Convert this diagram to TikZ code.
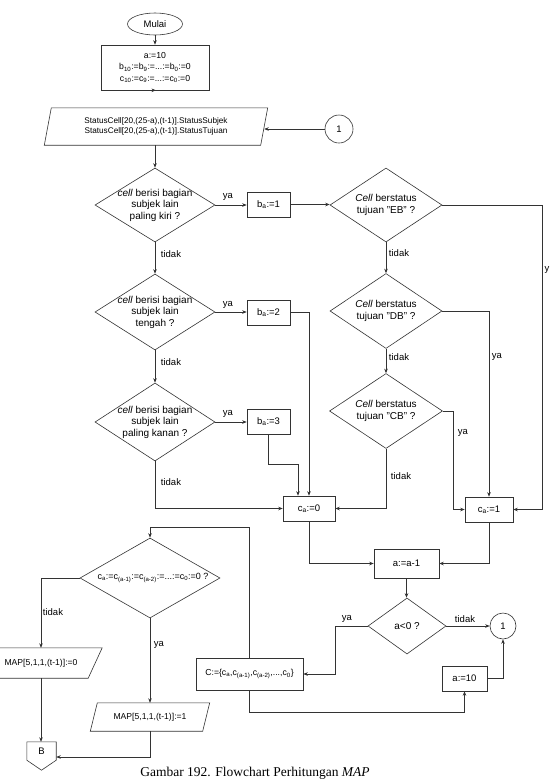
\documentclass[tikz,border=0pt]{standalone}
\usepackage{fontspec}
\setsansfont{Liberation Sans}
\newfontfamily\capfont{Liberation Serif}
\usetikzlibrary{shapes.geometric,arrows.meta}
\newcommand{\mysub}[1]{\textsubscript{#1}}
\tikzset{
  ln/.style={draw=black!80, line width=0.6pt},
  arr/.style={ln, -{Stealth[length=4.5pt,width=3.5pt]}},
  txt/.style={font=\sffamily\fontsize{9.5}{11}\selectfont, align=center, inner sep=0pt},
  dtxt/.style={font=\sffamily\fontsize{10}{11.5}\selectfont, align=center, inner sep=0pt},
  lbl/.style={font=\sffamily\fontsize{9.5}{11}\selectfont, inner sep=0pt},
  box/.style={txt, ln, rectangle},
  dia/.style={ln, diamond, inner sep=0pt},
  pbox/.style={txt, rectangle, draw=none},
}
\begin{document}
\begin{tikzpicture}[x=1pt,y=-1pt]
\useasboundingbox[fill=white] (0,0) rectangle (550,780);

% left column top
\node[txt, ln, ellipse, minimum width=55, minimum height=22] (mulai) at (155,24) {Mulai};
\node[box, font=\sffamily\fontsize{8.7}{11.5}\selectfont, minimum width=108, minimum height=45] (init) at (155,67.5)
  {a:=10\\b\mysub{10}:=b\mysub{9}:=...:=b\mysub{0}:=0\\c\mysub{10}:=c\mysub{9}:=...:=c\mysub{0}:=0};
\node[pbox, font=\sffamily\fontsize{8.2}{10}\selectfont, minimum width=216, minimum height=37] (inp) at (156,126.5)
  {StatusCell[20,(25-a),(t-1)].StatusSubjek\\StatusCell[20,(25-a),(t-1)].StatusTujuan};
\draw[ln] ([xshift=-3.5pt]inp.south west) -- ([xshift=3.5pt]inp.north west) -- ([xshift=3.5pt]inp.north east) -- ([xshift=-3.5pt]inp.south east) -- cycle;
\node[txt, ln, circle, minimum size=28] (c1top) at (339,129) {1};

% left diamonds
\node[dia, minimum width=120, minimum height=74] (d1) at (155,205) {};
\node[dtxt] (t1) at (155,205) {\textit{cell} berisi bagian\\subjek lain\\paling kiri ?};
\node[dia, minimum width=120, minimum height=76] (d2) at (155,312) {};
\node[dtxt] (t2) at (155,312) {\textit{cell} berisi bagian\\subjek lain\\tengah ?};
\node[dia, minimum width=120, minimum height=78] (d3) at (155,422) {};
\node[dtxt] (t3) at (155,422) {\textit{cell} berisi bagian\\subjek lain\\paling kanan ?};

\node[box, minimum width=43, minimum height=25] (b1) at (268.5,204.5) {b\mysub{a}:=1};
\node[box, minimum width=43, minimum height=25] (b2) at (268.5,312.5) {b\mysub{a}:=2};
\node[box, minimum width=43, minimum height=25] (b3) at (268.5,421.5) {b\mysub{a}:=3};

% right diamonds
\node[dia, minimum width=112, minimum height=74] (e1) at (386,205) {};
\node[dtxt] (u1) at (386,205) {\textit{Cell} berstatus\\tujuan "EB" ?};
\node[dia, minimum width=112, minimum height=75] (e2) at (386,311) {};
\node[dtxt] (u2) at (386,311) {\textit{Cell} berstatus\\tujuan "DB" ?};
\node[dia, minimum width=113, minimum height=75] (e3) at (386,411) {};
\node[dtxt] (u3) at (386,411) {\textit{Cell} berstatus\\tujuan "CB" ?};

\node[box, minimum width=52, minimum height=25] (c0) at (309,508.5) {c\mysub{a}:=0};
\node[box, minimum width=48, minimum height=25] (c1) at (489,509.5) {c\mysub{a}:=1};
\node[box, minimum width=65, minimum height=29] (am1) at (406.5,563.5) {a:=a-1};
\node[dia, minimum width=78, minimum height=56] (dlt) at (407,626) {};
\node[dtxt] (tlt) at (407,626) {a<0 ?};
\node[txt, ln, circle, minimum size=26] (circ1) at (503,626) {1};
\node[box, minimum width=45, minimum height=25] (a10) at (464.5,678.5) {a:=10};
\node[box, font=\sffamily\fontsize{8.7}{10}\selectfont, minimum width=107, minimum height=32] (cset) at (249.5,674)
  {C:=\{c\mysub{a},c\mysub{(a-1)},c\mysub{(a-2)},...,c\mysub{0}\}};

% bottom left
\node[dia, minimum width=140, minimum height=80] (dc) at (150,578) {};
\node[txt, font=\sffamily\fontsize{9}{10}\selectfont] (tc) at (153,578)
  {c\mysub{a}:=c\mysub{(a-1)}:=c\mysub{(a-2)}:=...:=c\mysub{0}:=0 ?};
\node[pbox, font=\sffamily\fontsize{8.6}{10}\selectfont, minimum width=108, minimum height=30] (map0) at (41,663) {MAP[5,1,1,(t-1)]:=0};
\draw[ln] ([xshift=-7pt]map0.south west) -- ([xshift=7pt]map0.north west) -- ([xshift=7pt]map0.north east) -- ([xshift=-7pt]map0.south east) -- cycle;
\node[pbox, font=\sffamily\fontsize{8.6}{10}\selectfont, minimum width=112, minimum height=28] (map1) at (150,717) {MAP[5,1,1,(t-1)]:=1};
\draw[ln] ([xshift=-3.5pt]map1.south west) -- ([xshift=3.5pt]map1.north west) -- ([xshift=3.5pt]map1.north east) -- ([xshift=-3.5pt]map1.south east) -- cycle;
\node[pbox, minimum width=29, minimum height=18, inner sep=0pt] (offB) at (41.5,751) {B};
\draw[ln] (offB.north west) -- (offB.north east) -- (offB.south east) -- ([yshift=-10pt]offB.south) -- (offB.south west) -- cycle;

% helper coordinates
\coordinate (k3) at (298,464);
\coordinate (kEB) at (542,0);
\coordinate (kCB) at (453,0);
\coordinate (kya) at (335,0);
\coordinate (ktop) at (0,527);
\coordinate (kbot) at (0,712);

% connectors
\draw[arr] (mulai.south) -- (mulai.south |- init.north);
\draw[arr] (init.south) -- (init.south -| inp.north);
\draw[arr] (c1top.west) -- (c1top.west -| inp.east);
\draw[arr] (inp.south -| d1.north) -- (d1.north);
\draw[arr] (d1.east) -- (b1.west |- d1.east);
\draw[arr] (d1.south) -- (d2.north);
\draw[arr] (d2.east) -- (b2.west |- d2.east);
\draw[arr] (d2.south) -- (d3.north);
\draw[arr] (d3.east) -- (b3.west |- d3.east);
\draw[arr] (b1.east) -- (e1.west |- b1.east);
\draw[arr] (b2.east) -| (c0.north);
\draw[arr] (b3.south) |- (k3) -- (k3 |- c0.north);
\draw[arr] (d3.south) |- (c0.west);
\draw[arr] (e1.south) -- (e2.north);
\draw[arr] (e2.south) -- (e3.north);
\draw[arr] (e3.south) |- (c0.east);
\draw[arr] (e1.east) -| (kEB |- c1.east) -- (c1.east);
\draw[arr] (e2.east) -| (c1.north);
\draw[arr] (e3.east) -| (kCB |- c1.west) -- (c1.west);
\draw[arr] (c0.south) |- (am1.west);
\draw[arr] (c1.south) |- (am1.east);
\draw[arr] (am1.south) -- (am1.south |- dlt.north);
\draw[arr] (dlt.east) -- (circ1.west);
\draw[arr] (dlt.west) -| (kya |- cset.east) -- (cset.east);
\draw[arr] (cset.north) |- (ktop -| dc.north) -- (dc.north);
\draw[arr] (cset.south) |- (kbot -| a10.south) -- (a10.south);
\draw[arr] (a10.east) -| (circ1.south);
\draw[arr] (dc.west) -| (map0.north);
\draw[arr] (dc.south) -- (dc.south |- map1.north);
\draw[arr] (map0.south) -- (map0.south |- offB.north);
\draw[arr] (map1.south) |- ([yshift=-6pt]offB.east);

% labels
\node[lbl] (l1) at (228,197) {ya};
\node[lbl] (l2) at (228,305) {ya};
\node[lbl] (l3) at (228,414) {ya};
\node[lbl] (l4) at (171,254) {tidak};
\node[lbl] (l5) at (171,362) {tidak};
\node[lbl] (l6) at (171,482) {tidak};
\node[lbl] (l7) at (399,253) {tidak};
\node[lbl] (l8) at (399,357) {tidak};
\node[lbl] (l9) at (401,476) {tidak};
\node[lbl, anchor=west] (l10) at (544.5,270) {y};
\node[lbl] (l11) at (497,357) {ya};
\node[lbl] (l12) at (463,433) {ya};
\node[lbl] (l13) at (465,619) {tidak};
\node[lbl] (l14) at (347,619) {ya};
\node[lbl] (l15) at (53,612) {tidak};
\node[lbl] (l16) at (159,645) {ya};

% caption
\node[anchor=base, inner sep=0pt, font=\capfont\fontsize{13.5}{16}\selectfont] (cap) at (255,776.5)
  {Gambar 192. Flowchart Perhitungan \textit{MAP}};
\end{tikzpicture}
\end{document}
